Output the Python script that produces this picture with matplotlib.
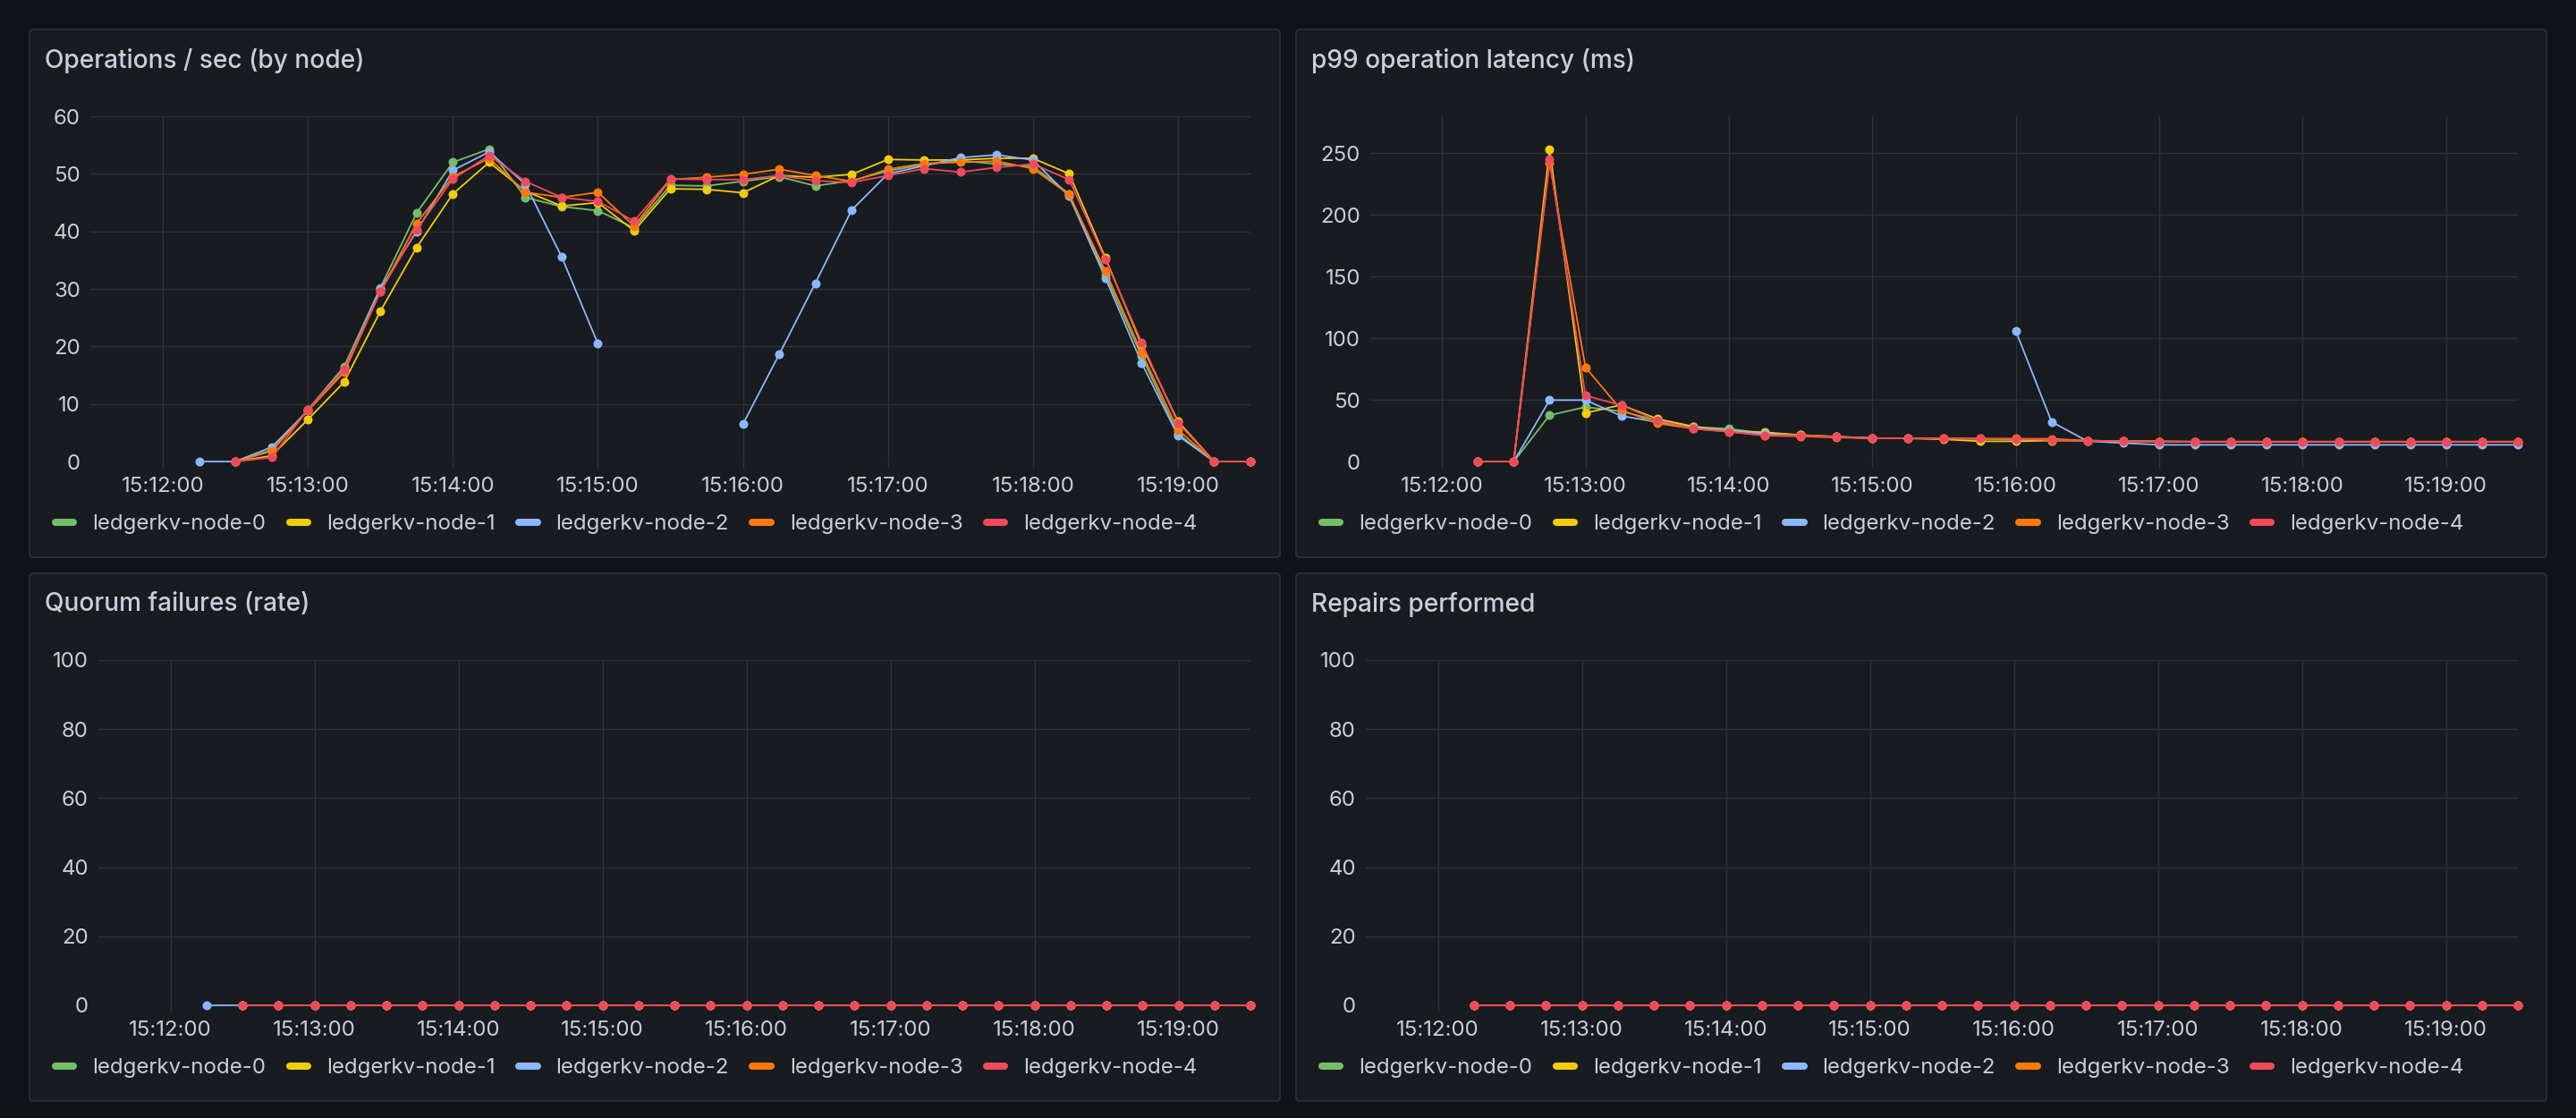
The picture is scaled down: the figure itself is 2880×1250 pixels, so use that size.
import numpy as np
import pandas as pd
import matplotlib
matplotlib.use('Agg')
import matplotlib.pyplot as plt
import matplotlib.dates as mdates
from matplotlib.patches import FancyBboxPatch
from matplotlib.lines import Line2D

plt.rcParams['font.family'] = ['Inter', 'DejaVu Sans']

nan = np.nan

# 15 s samples, 15:12:15 .. 15:19:30
times = pd.date_range('2024-01-01 15:12:15', periods=30, freq='15s')
node_names = ['ledgerkv-node-0', 'ledgerkv-node-1', 'ledgerkv-node-2',
              'ledgerkv-node-3', 'ledgerkv-node-4']
node_colors = ['#73BF69', '#F2CC0C', '#8AB8FF', '#FF780A', '#F2495C']

# Operations / sec
ops_node0 = [nan, 0, 2.0, 9.0, 16.5, 30.2, 43.2, 52.0, 54.3, 45.9, 44.3, 43.6, 40.6, 48.0, 47.9,
             48.7, 49.5, 47.9, 48.8, 50.5, 51.6, 52.3, 51.7, 51.3, 46.5, 32.5, 18.3, 4.8, 0, 0]
ops_node1 = [nan, 0, 1.0, 7.3, 13.8, 26.1, 37.2, 46.5, 52.0, 47.0, 44.4, 45.0, 40.1, 47.4, 47.3,
             46.7, 49.7, 49.4, 49.9, 52.5, 52.4, 52.4, 52.7, 52.7, 50.0, 35.4, 20.2, 7.0, 0, 0]
ops_node2 = [0, 0, 2.5, 8.8, 16.0, 30.0, 40.0, 50.6, 53.8, 48.2, 35.6, 20.5, nan, nan, nan,
             6.5, 18.6, 31.0, 43.7, 50.0, 51.4, 52.8, 53.3, 52.4, 46.1, 31.9, 17.1, 4.5, 0, 0]
ops_node3 = [nan, 0, 1.8, 8.8, 15.5, 29.5, 41.4, 49.5, 52.7, 46.8, 45.9, 46.8, 40.9, 49.0, 49.4,
             49.9, 50.8, 49.7, 48.7, 50.8, 51.8, 52.0, 52.2, 50.9, 46.4, 33.1, 18.9, 5.5, 0, 0]
ops_node4 = [nan, 0, 0.7, 9.0, 16.0, 29.5, 40.3, 49.1, 53.2, 48.7, 45.9, 45.2, 41.8, 49.1, 49.0,
             49.0, 49.7, 48.8, 48.5, 49.7, 50.9, 50.3, 51.1, 51.7, 49.0, 35.1, 20.7, 6.7, 0, 0]

# p99 latency (ms)
lat_node0 = [0, 0, 37.5, 44.2, 40.7, 33.4, 28.0, 26.6, 22.7, 21.5, 20.3, 19.0, 18.8, 18.6, 18.3,
             17.8, 17.4, 16.9, 16.5, 16.2, 16.0, 16.0, 16.0, 16.0, 16.0, 16.0, 16.0, 16.0, 16.0, 16.0]
lat_node1 = [0, 0, 253.3, 39.4, 45.9, 34.6, 28.5, 24.9, 23.7, 21.5, 20.0, 19.0, 18.8, 18.0, 16.4,
             16.4, 17.0, 16.9, 16.5, 16.3, 16.0, 16.0, 16.0, 16.0, 16.0, 16.0, 16.0, 16.0, 16.0, 16.0]
lat_node2 = [0, 0, 49.8, 49.8, 37.0, 32.0, 27.5, 25.0, 22.5, 21.0, 20.0, 19.0, nan, nan, nan,
             105.9, 32.1, 16.5, 15.0, 13.5, 13.5, 13.5, 13.5, 13.5, 13.5, 13.5, 13.5, 13.5, 13.5, 13.5]
lat_node3 = [0, 0, 242.0, 76.4, 41.8, 31.0, 26.6, 24.2, 21.0, 20.5, 19.5, 18.9, 18.9, 18.7, 18.6,
             18.5, 18.4, 16.9, 16.5, 16.3, 16.2, 16.2, 16.2, 16.2, 16.2, 16.2, 16.2, 16.2, 16.2, 16.2]
lat_node4 = [0, 0, 244.9, 53.4, 45.7, 33.4, 26.6, 24.2, 21.3, 21.3, 20.1, 18.9, 18.9, 18.6, 18.6,
             18.4, 17.4, 16.9, 16.5, 16.0, 16.0, 16.0, 16.0, 16.0, 16.0, 16.0, 16.0, 16.0, 16.0, 16.0]

# Quorum failures (rate)
quorum_node0 = [nan, 0, 0, 0, 0, 0, 0, 0, 0, 0, 0, 0, 0, 0, 0, 0, 0, 0, 0, 0, 0, 0, 0, 0, 0, 0, 0, 0, 0, 0]
quorum_node1 = [nan, 0, 0, 0, 0, 0, 0, 0, 0, 0, 0, 0, 0, 0, 0, 0, 0, 0, 0, 0, 0, 0, 0, 0, 0, 0, 0, 0, 0, 0]
quorum_node2 = [0, 0, 0, 0, 0, 0, 0, 0, 0, 0, 0, 0, 0, 0, 0, 0, 0, 0, 0, 0, 0, 0, 0, 0, 0, 0, 0, 0, 0, 0]
quorum_node3 = [nan, 0, 0, 0, 0, 0, 0, 0, 0, 0, 0, 0, 0, 0, 0, 0, 0, 0, 0, 0, 0, 0, 0, 0, 0, 0, 0, 0, 0, 0]
quorum_node4 = [nan, 0, 0, 0, 0, 0, 0, 0, 0, 0, 0, 0, 0, 0, 0, 0, 0, 0, 0, 0, 0, 0, 0, 0, 0, 0, 0, 0, 0, 0]

# Repairs performed
repairs_node0 = [0, 0, 0, 0, 0, 0, 0, 0, 0, 0, 0, 0, 0, 0, 0, 0, 0, 0, 0, 0, 0, 0, 0, 0, 0, 0, 0, 0, 0, 0]
repairs_node1 = [0, 0, 0, 0, 0, 0, 0, 0, 0, 0, 0, 0, 0, 0, 0, 0, 0, 0, 0, 0, 0, 0, 0, 0, 0, 0, 0, 0, 0, 0]
repairs_node2 = [0, 0, 0, 0, 0, 0, 0, 0, 0, 0, 0, 0, 0, 0, 0, 0, 0, 0, 0, 0, 0, 0, 0, 0, 0, 0, 0, 0, 0, 0]
repairs_node3 = [0, 0, 0, 0, 0, 0, 0, 0, 0, 0, 0, 0, 0, 0, 0, 0, 0, 0, 0, 0, 0, 0, 0, 0, 0, 0, 0, 0, 0, 0]
repairs_node4 = [0, 0, 0, 0, 0, 0, 0, 0, 0, 0, 0, 0, 0, 0, 0, 0, 0, 0, 0, 0, 0, 0, 0, 0, 0, 0, 0, 0, 0, 0]

BG = '#111217'
PANEL = '#181b1f'
BORDER = '#2a2d33'
GRID = '#2e3136'
TEXT = '#ccccdc'

W, H = 2880, 1250
fig = plt.figure(figsize=(W / 100, H / 100), dpi=100, facecolor=BG)


def panel(box, ax_px, title, series, ylim, yticks):
    bl, bt, br, bb = box
    fig.patches.append(FancyBboxPatch((bl / 100, (H - bb) / 100), (br - bl) / 100, (bb - bt) / 100,
                                      boxstyle='round,pad=0,rounding_size=0.04',
                                      transform=fig.dpi_scale_trans, facecolor=PANEL,
                                      edgecolor=BORDER, linewidth=1.4, zorder=-5))
    fig.text((bl + 17) / W, 1 - (bt + 35) / H, title, color=TEXT, fontsize=20.2,
             fontweight='medium', va='center', ha='left')

    l, t, r, b = ax_px
    ax = fig.add_axes([l / W, 1 - b / H, (r - l) / W, (b - t) / H])
    ax.set_zorder(2)
    ax.set_facecolor('none')
    for s in ax.spines.values():
        s.set_visible(False)
    ax.grid(True, color=GRID, linewidth=1.0)
    ax.set_axisbelow(True)

    for vals, col in zip(series, node_colors):
        ax.plot(times, vals, color=col, linewidth=1.3, marker='o', markersize=7.2,
                markeredgewidth=0, clip_on=False, zorder=3)

    ax.set_xlim(pd.Timestamp('2024-01-01 15:11:30'), pd.Timestamp('2024-01-01 15:19:30'))
    ax.set_ylim(*ylim)
    ax.set_yticks(yticks)
    ax.xaxis.set_major_locator(mdates.MinuteLocator())
    ax.xaxis.set_major_formatter(mdates.DateFormatter('%H:%M:%S'))
    ax.tick_params(axis='x', length=6, width=1.0, color=GRID, labelcolor=TEXT, labelsize=17.3, pad=6)
    ax.tick_params(axis='y', length=0, labelcolor=TEXT, labelsize=17.3, pad=8)

    handles = [Line2D([], [], color=c, linewidth=5.8, solid_capstyle='round') for c in node_colors]
    leg = fig.legend(handles, node_names, loc='center left',
                     bbox_to_anchor=((bl + 29) / W, 1 - (bb - 37) / H),
                     ncol=5, frameon=False, fontsize=17.3, handlelength=0.85,
                     handletextpad=0.87, columnspacing=1.1, borderpad=0, borderaxespad=0)
    for txt in leg.get_texts():
        txt.set_color(TEXT)
    return ax


panel((33, 33, 1431, 623), (101, 130, 1398, 516), 'Operations / sec (by node)',
      [ops_node0, ops_node1, ops_node2, ops_node3, ops_node4], (0, 60), [0, 10, 20, 30, 40, 50, 60])
panel((1449, 33, 2847, 623), (1532, 130, 2815, 516), 'p99 operation latency (ms)',
      [lat_node0, lat_node1, lat_node2, lat_node3, lat_node4], (0, 280), [0, 50, 100, 150, 200, 250])
panel((33, 641, 1431, 1231), (110, 738, 1398, 1124), 'Quorum failures (rate)',
      [quorum_node0, quorum_node1, quorum_node2, quorum_node3, quorum_node4], (0, 100),
      [0, 20, 40, 60, 80, 100])
panel((1449, 641, 2847, 1231), (1527, 738, 2815, 1124), 'Repairs performed',
      [repairs_node0, repairs_node1, repairs_node2, repairs_node3, repairs_node4], (0, 100),
      [0, 20, 40, 60, 80, 100])

fig.savefig('out.png', dpi=100, facecolor=BG)
